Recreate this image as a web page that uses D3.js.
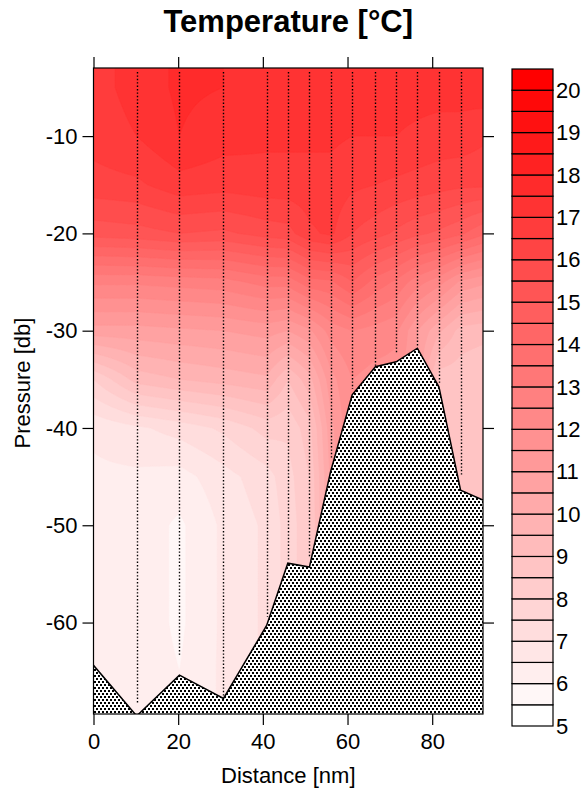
<!DOCTYPE html>
<html>
<head>
<meta charset="utf-8">
<script src="https://cdn.jsdelivr.net/npm/d3@7"></script>
<style>
  body { margin: 0; background: #fff; }
  text { font-family: "Liberation Sans", Arial, sans-serif; fill: #000; }
</style>
</head>
<body>
<svg id="chart" width="585" height="796"></svg>
<script>
// Station positions along the section [nm]
const stations = [0, 10.2, 20.3, 30.7, 40.9, 45.9, 51, 56, 61.1, 66.6, 71.5, 76.5, 81.6, 86.7, 92];
// Sampling pressures [db], negative downwards
const pressures = [-3, -5, -10, -15, -20, -25, -30, -35, -40, -45, -50, -55, -60, -65, -70];
// Temperature [°C] per station, one value per pressure level
const temperature = [
  [16.8, 16.8, 16.7, 16.3, 15.2, 12.6, 10.8, 8.0, 6.6, 6.4, 6.3, 6.3, 6.3, 6.3, 6.3],
  [17.2, 17.2, 17.0, 16.4, 15.3, 12.6, 10.8, 9.2, 6.9, 6.4, 6.3, 6.3, 6.3, 6.3, 6.3],
  [17.6, 17.6, 17.5, 16.8, 15.5, 12.7, 10.9, 9.5, 7.2, 6.3, 5.9, 5.9, 5.9, 6.0, 6.0],
  [17.5, 17.5, 17.2, 16.7, 15.4, 12.8, 11.0, 9.7, 7.6, 6.8, 6.6, 6.6, 6.6, 6.6, 6.6],
  [17.4, 17.3, 17.1, 16.8, 15.7, 13.2, 11.2, 9.9, 8.2, 7.3, 7.1, 7.1, 7.1, 7.1, 7.1],
  [17.4, 17.3, 17.1, 16.8, 15.8, 13.2, 11.0, 9.0, 8.1, 7.8, 7.7, 7.7, 7.7, 7.7, 7.7],
  [17.4, 17.3, 17.1, 16.8, 16.4, 13.8, 11.4, 9.8, 8.8, 8.5, 8.4, 8.4, 8.4, 8.4, 8.4],
  [17.4, 17.3, 17.1, 16.8, 16.6, 13.9, 12.2, 11.3, 10.8, 10.6, 10.6, 10.6, 10.6, 10.6, 10.6],
  [17.4, 17.3, 17.0, 16.6, 16.0, 14.5, 12.5, 12.0, 12.0, 12.0, 12.0, 12.0, 12.0, 12.0, 12.0],
  [17.3, 17.2, 17.0, 16.5, 15.7, 13.8, 12.3, 11.8, 11.8, 11.8, 11.8, 11.8, 11.8, 11.8, 11.8],
  [17.3, 17.2, 17.0, 16.4, 15.4, 13.4, 12.1, 11.8, 11.8, 11.8, 11.8, 11.8, 11.8, 11.8, 11.8],
  [17.3, 17.2, 16.9, 16.3, 15.1, 12.7, 11.0, 10.8, 10.8, 10.8, 10.8, 10.8, 10.8, 10.8, 10.8],
  [17.3, 17.2, 16.8, 16.2, 14.9, 12.2, 10.1, 8.7, 8.5, 8.5, 8.5, 8.5, 8.5, 8.5, 8.5],
  [17.4, 17.2, 16.8, 16.1, 14.6, 11.4, 9.3, 8.7, 8.8, 8.5, 8.5, 8.5, 8.5, 8.5, 8.5],
  [17.5, 17.3, 16.6, 16.1, 14.1, 11.1, 9.2, 8.5, 8.5, 8.5, 8.5, 8.5, 8.5, 8.5, 8.5]
];
// Sea floor pressure under each station
const bottomPressure = [-64.4, -69.6, -65.4, -67.8, -60.3, -53.9, -54.3, -44.5, -36.6, -33.7, -33.2, -31.8, -35.8, -46.4, -47.4];
// Deepest sample of each interior cast (dotted lines)
const castStations = [10.2, 20.3, 30.7, 40.9, 45.9, 51, 56, 61.1, 66.6, 71.5, 76.5, 81.6, 86.7];
const castDepth = [-68.3, -63.5, -67.5, -59.4, -53.6, -53.2, -43.1, -36.0, -33.7, -32.3, -31.6, -35.4, -45.0];
const castTop = -3.4;

const xTicks = [0, 20, 40, 60, 80];
const yTicks = [-10, -20, -30, -40, -50, -60];
const colorbarLabels = [5, 6, 7, 8, 9, 10, 11, 12, 13, 14, 15, 16, 17, 18, 19, 20];

const xDomain = [0, 92];
const yDomain = [-3, -69.4];
const tempDomain = [5, 20.5];
const levelStep = 0.5;

const svg = d3.select("#chart");
const plot = { left: 93.5, right: 483, top: 68, bottom: 714 };
const bar = { left: 512, right: 553, top: 69, bottom: 726 };

const x = d3.scaleLinear().domain(xDomain).range([plot.left, plot.right]);
const y = d3.scaleLinear().domain(yDomain).range([plot.top, plot.bottom]);
const cbar = d3.scaleLinear().domain(tempDomain).range([bar.bottom, bar.top]);
const levels = d3.range(tempDomain[0], tempDomain[1], levelStep);
const fillOf = t => d3.interpolateRgb("#ffffff", "#ff0000")((t - tempDomain[0]) / (tempDomain[1] - levelStep - tempDomain[0]));

// bilinear interpolation of the station table
const depthsDown = pressures.map(p => -p);
function tempAt(px, pp) {
  const i = Math.min(Math.max(d3.bisectRight(stations, px) - 1, 0), stations.length - 2);
  const tx = Math.max(0, Math.min(1, (px - stations[i]) / (stations[i + 1] - stations[i])));
  const j = Math.min(Math.max(d3.bisectRight(depthsDown, -pp) - 1, 0), pressures.length - 2);
  const ty = Math.max(0, Math.min(1, (-pp - depthsDown[j]) / (depthsDown[j + 1] - depthsDown[j])));
  const a = temperature[i][j], b = temperature[i + 1][j];
  const c = temperature[i][j + 1], d = temperature[i + 1][j + 1];
  return (a * (1 - tx) + b * tx) * (1 - ty) + (c * (1 - tx) + d * tx) * ty;
}

const defs = svg.append("defs");
defs.append("clipPath").attr("id", "plotClip")
  .append("rect").attr("x", plot.left).attr("y", plot.top)
  .attr("width", plot.right - plot.left).attr("height", plot.bottom - plot.top);

// stippled sea-floor fill
const pat = defs.append("pattern").attr("id", "seabed")
  .attr("patternUnits", "userSpaceOnUse").attr("width", 4).attr("height", 6);
pat.append("rect").attr("width", 4).attr("height", 6).attr("fill", "#fff");
pat.append("rect").attr("x", 0).attr("y", 0).attr("width", 2).attr("height", 2).attr("fill", "#000");
pat.append("rect").attr("x", 2).attr("y", 3).attr("width", 2).attr("height", 2).attr("fill", "#000");

// gridded field for contouring
const gStep = 0.25;
const nx = Math.round((xDomain[1] - xDomain[0]) / gStep) + 1;
const ny = Math.round((pressures[0] - pressures[pressures.length - 1]) / gStep) + 1;
const grid = new Float64Array(nx * ny);
for (let j = 0; j < ny; j++) {
  for (let i = 0; i < nx; i++) {
    grid[j * nx + i] = tempAt(xDomain[0] + i * gStep, pressures[0] - j * gStep);
  }
}
// thresholds nudged down slightly so values sitting on a level stay inside its band
const contours = d3.contours().size([nx, ny]).thresholds(levels.map(t => t - 1e-6))(grid);
const toScreen = d3.geoTransform({
  point(px, py) {
    this.stream.point(x(xDomain[0] + (px - 0.5) * gStep), y(pressures[0] - (py - 0.5) * gStep));
  }
});
const path = d3.geoPath(toScreen);
const bandFill = d => fillOf(Math.round(d.value / levelStep) * levelStep);

const field = svg.append("g").attr("clip-path", "url(#plotClip)");
field.append("rect").attr("x", plot.left).attr("y", plot.top)
  .attr("width", plot.right - plot.left).attr("height", plot.bottom - plot.top)
  .attr("fill", "#fff");
field.selectAll("path.band").data(contours).join("path")
  .attr("class", "band")
  .attr("d", path)
  .attr("fill", bandFill)
  .attr("stroke", bandFill)
  .attr("stroke-width", 0.5);

// station casts
field.selectAll("line.cast").data(castStations).join("line")
  .attr("class", "cast")
  .attr("x1", d => Math.round(x(d)) + 0.5).attr("x2", d => Math.round(x(d)) + 0.5)
  .attr("y1", Math.round(y(castTop)))
  .attr("y2", (d, i) => y(castDepth[i]))
  .attr("stroke", "#000").attr("stroke-width", 1.4)
  .attr("stroke-dasharray", "1.4,2");

// sea floor
const floorPts = stations.map((s, i) => [s, bottomPressure[i]]);
const floorArea = d3.area().x(d => x(d[0])).y0(y(yDomain[1]) + 2).y1(d => y(d[1]));
field.append("path").datum(floorPts)
  .attr("d", floorArea)
  .attr("fill", "url(#seabed)");
field.append("path").datum(floorPts)
  .attr("d", d3.line().x(d => x(d[0])).y(d => y(d[1])))
  .attr("fill", "none").attr("stroke", "#000").attr("stroke-width", 1.5);

// frame
svg.append("rect").attr("x", plot.left).attr("y", plot.top)
  .attr("width", plot.right - plot.left).attr("height", plot.bottom - plot.top)
  .attr("fill", "none").attr("stroke", "#000").attr("stroke-width", 1.2);

const tickLen = 11;
const fontSize = 22;
const plainNum = d => String(d);
function styleAxis(g) {
  g.select(".domain").remove();
  g.selectAll(".tick line").attr("stroke", "#000").attr("stroke-width", 1.2);
  g.selectAll(".tick text").attr("font-size", fontSize).attr("fill", "#000")
    .attr("font-family", "'Liberation Sans', Arial, sans-serif");
}
svg.append("g").attr("transform", `translate(0,${plot.bottom})`)
  .call(d3.axisBottom(x).tickValues(xTicks).tickSize(tickLen).tickPadding(8).tickFormat(plainNum))
  .call(styleAxis);
svg.append("g").attr("transform", `translate(0,${plot.top})`)
  .call(d3.axisTop(x).tickValues(xTicks).tickSize(tickLen).tickFormat(""))
  .call(styleAxis);
svg.append("g").attr("transform", `translate(${plot.left},0)`)
  .call(d3.axisLeft(y).tickValues(yTicks).tickSize(tickLen).tickPadding(5).tickFormat(plainNum))
  .call(styleAxis);
svg.append("g").attr("transform", `translate(${plot.right},0)`)
  .call(d3.axisRight(y).tickValues(yTicks).tickSize(tickLen).tickFormat(""))
  .call(styleAxis);

// titles
svg.append("text").attr("x", (plot.left + plot.right) / 2).attr("y", 32)
  .attr("text-anchor", "middle").attr("font-size", 31).attr("font-weight", "bold")
  .text("Temperature [°C]");
svg.append("text").attr("x", (plot.left + plot.right) / 2).attr("y", 783)
  .attr("text-anchor", "middle").attr("font-size", fontSize)
  .text("Distance [nm]");
svg.append("text").attr("transform", `translate(30,383) rotate(-90)`)
  .attr("text-anchor", "middle").attr("font-size", fontSize)
  .text("Pressure [db]");

// colour bar
const cb = svg.append("g");
cb.selectAll("rect").data(levels).join("rect")
  .attr("x", bar.left).attr("width", bar.right - bar.left)
  .attr("y", d => cbar(d + levelStep)).attr("height", d => cbar(d) - cbar(d + levelStep))
  .attr("fill", d => fillOf(d))
  .attr("stroke", "#000").attr("stroke-width", 1.2);
cb.selectAll("text").data(colorbarLabels).join("text")
  .attr("x", bar.right + 3).attr("y", d => cbar(d)).attr("dy", "0.35em")
  .attr("font-size", fontSize)
  .text(d => d);
</script>
</body>
</html>
